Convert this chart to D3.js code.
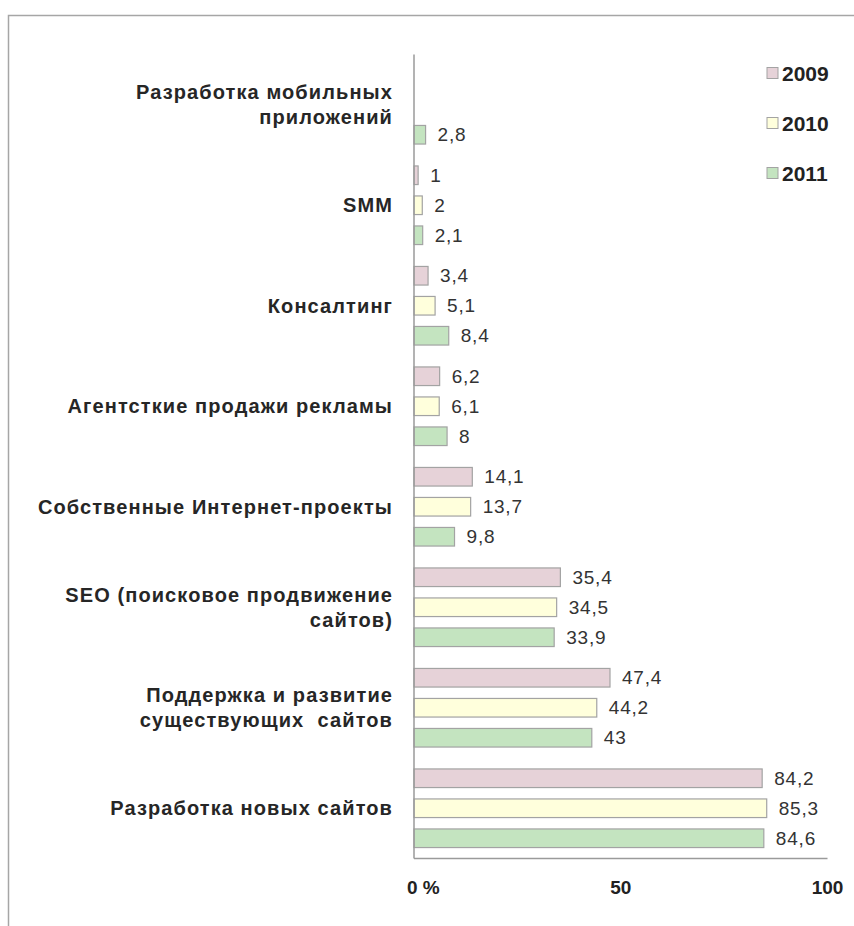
<!DOCTYPE html>
<html>
<head>
<meta charset="utf-8">
<script src="https://cdn.jsdelivr.net/npm/d3@7"></script>
<style>
  body { margin: 0; background: #fff; }
  svg { display: block; font-family: "Liberation Sans", Arial, sans-serif; }
</style>
</head>
<body>
<div id="chart"></div>
<script>
// категории сверху вниз
var categories = [
    ["Разработка мобильных", "приложений"],
    ["SMM"],
    ["Консалтинг"],
    ["Агентсткие продажи рекламы"],
    ["Собственные Интернет-проекты"],
    ["SEO (поисковое продвижение", "сайтов)"],
    ["Поддержка и развитие", "существующих  сайтов"],
    ["Разработка новых сайтов"]
];
var series = ["2009", "2010", "2011"];
var values2009 = [null, 1, 3.4, 6.2, 14.1, 35.4, 47.4, 84.2];
var values2010 = [null, 2, 5.1, 6.1, 13.7, 34.5, 44.2, 85.3];
var values2011 = [2.8, 2.1, 8.4, 8, 9.8, 33.9, 43, 84.6];
var xTicks = [0, 50, 100];
var xTickLabels = ["0 %", "50", "100"];

var W = 854, H = 926;
var colors = {"2009": "#e6d2d8", "2010": "#ffffdc", "2011": "#c4e4c0"};
var allValues = {"2009": values2009, "2010": values2010, "2011": values2011};

var svg = d3.select("#chart").append("svg")
    .attr("width", W).attr("height", H);

// рамка
svg.append("path")
    .attr("d", "M8.5," + H + "V15.5H" + W)
    .attr("fill", "none")
    .attr("stroke", "#a6a6a6")
    .attr("stroke-width", 1.5);

var area = {left: 414, right: 827.5, top: 54.5, bottom: 858.5};

var x = d3.scaleLinear().domain([0, 100]).range([area.left, area.right]);
var y = d3.scaleBand().domain(d3.range(categories.length))
    .range([area.top, area.bottom]);
var y1 = d3.scaleBand().domain(series)
    .range([0, y.bandwidth()])
    .paddingInner(0.38).paddingOuter(0.365);

var data = [];
series.forEach(function(s) {
    allValues[s].forEach(function(v, i) {
        if (v != null) data.push({s: s, i: i, v: v});
    });
});

var fmt = function(v) { return String(v).replace(".", ","); };

// столбики
svg.append("g").selectAll("rect")
    .data(data)
    .enter()
    .append("rect")
    .attr("x", x(0))
    .attr("y", d => y(d.i) + y1(d.s))
    .attr("width", d => x(d.v) - x(0))
    .attr("height", y1.bandwidth())
    .attr("fill", d => colors[d.s])
    .attr("stroke", "#a3a3a3")
    .attr("stroke-width", 1.2);

// подписи значений
svg.append("g").selectAll("text")
    .data(data)
    .enter()
    .append("text")
    .attr("x", d => x(d.v) + 12)
    .attr("y", d => y(d.i) + y1(d.s) + y1.bandwidth() / 2)
    .attr("dominant-baseline", "central")
    .style("font-size", "19px")
    .style("letter-spacing", "0.8px")
    .attr("fill", "#333")
    .text(d => fmt(d.v));

// оси
svg.append("line")
    .attr("x1", area.left).attr("x2", area.left)
    .attr("y1", area.top).attr("y2", area.bottom)
    .attr("stroke", "#9a9a9a").attr("stroke-width", 1.5);
svg.append("line")
    .attr("x1", area.left).attr("x2", area.right)
    .attr("y1", area.bottom).attr("y2", area.bottom)
    .attr("stroke", "#9a9a9a").attr("stroke-width", 1.5);

svg.append("g").selectAll("text")
    .data(xTicks)
    .enter()
    .append("text")
    .attr("x", (d, i) => i === 0 ? x(d) - 7 : x(d))
    .attr("y", area.bottom + 29)
    .attr("dominant-baseline", "central")
    .attr("text-anchor", (d, i) => i === 0 ? "start" : "middle")
    .style("font-size", "19px")
    .style("font-weight", "bold")
    .attr("fill", "#222")
    .text((d, i) => xTickLabels[i]);

// подписи категорий
var catG = svg.append("g").selectAll("text")
    .data(categories)
    .enter()
    .append("text")
    .attr("text-anchor", "end")
    .style("font-size", "20px")
    .style("font-weight", "bold")
    .style("letter-spacing", "1.1px")
    .attr("fill", "#262626");
catG.each(function(lines, i) {
    var cy = y(i) + y.bandwidth() / 2;
    var lh = 25;
    var t = d3.select(this);
    lines.forEach(function(l, k) {
        t.append("tspan")
            .attr("x", 393)
            .attr("y", cy + (k - (lines.length - 1) / 2) * lh)
            .attr("dominant-baseline", "central")
            .attr("xml:space", "preserve")
            .text(l);
    });
});

// легенда
var legend = svg.append("g").selectAll("g")
    .data(series)
    .enter()
    .append("g")
    .attr("transform", (d, i) => "translate(767," + (73 + i * 50) + ")");
legend.append("rect")
    .attr("x", 0).attr("y", -5.5)
    .attr("width", 11).attr("height", 11)
    .attr("fill", d => colors[d])
    .attr("stroke", "#a3a3a3");
legend.append("text")
    .attr("x", 15)
    .attr("dominant-baseline", "central")
    .style("font-size", "21px")
    .style("font-weight", "bold")
    .attr("fill", "#222")
    .text(d => d);
</script>
</body>
</html>
